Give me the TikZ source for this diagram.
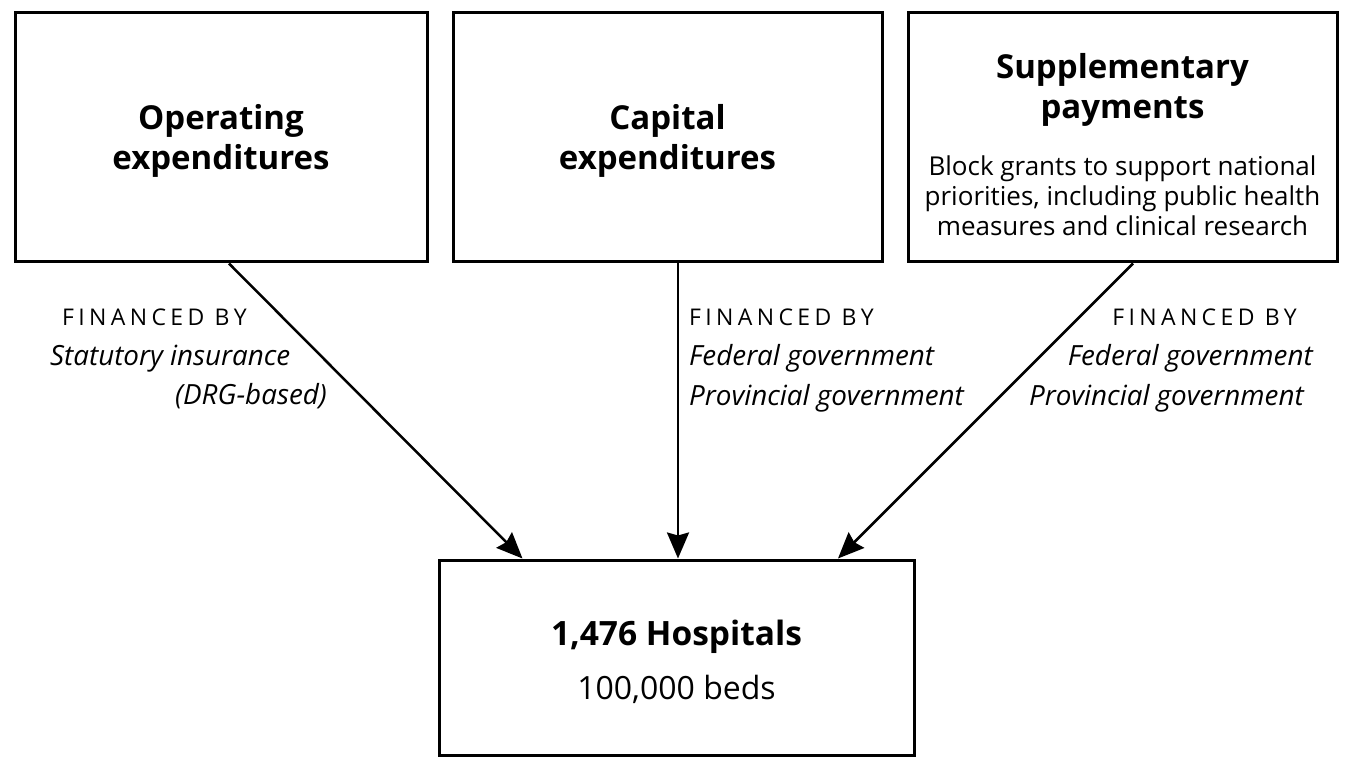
\documentclass[tikz,border=0pt]{standalone}
\usepackage{fontspec}
\setmainfont{Open Sans}
\newfontfamily\lblfont[LetterSpace=19]{Open Sans}
\newfontfamily\itfont{Open Sans}
\usetikzlibrary{arrows.meta}
\begin{document}
\begin{tikzpicture}[x=1pt,y=-1pt,
  box/.style={draw,line width=3pt,rectangle,inner sep=0pt,align=center},
  arr/.style={line width=2.5pt,-{Stealth[length=26pt,width=22pt,inset=3pt]}},
  title/.style={font=\fontsize{33}{40}\selectfont\bfseries},
  fin/.style={font=\lblfont\fontsize{23}{26}\selectfont,inner sep=0pt},
  src/.style={font=\itfont\itshape\fontsize{27.8}{30}\selectfont,inner sep=0pt}]
\useasboundingbox (0,0) rectangle (1350,767);
\node[box,minimum width=412pt,minimum height=249pt] (op) at (221,137.5) {};
\node[title,align=center] (opt) at (221,140.5) {Operating\\expenditures};
\node[box,minimum width=429pt,minimum height=249pt] (cap) at (667.5,137.5) {};
\node[title,align=center] (capt) at (667.5,140.5) {Capital\\expenditures};
\node[box,minimum width=429pt,minimum height=249pt] (sup) at (1122.5,137.5) {};
\node[title,align=center] (supt) at (1122.5,89.5) {Supplementary\\payments};
\node[align=center,font=\fontsize{26}{30}\selectfont] (supd) at (1122.5,196) {Block grants to support national\\priorities, including public health\\measures and clinical research};
\node[box,minimum width=475pt,minimum height=195pt] (hosp) at (676.5,657.5) {};
\node[font=\fontsize{33.5}{40}\selectfont\bfseries] (hospt) at (676.5,637) {1,476 Hospitals};
\node[font=\fontsize{32}{34}\selectfont] (hospb) at (676.5,689) {100,000 beds};

\node[fin,anchor=base west] (f1) at (62,326) {FINANCED BY};
\node[src,anchor=base west] (s1a) at (50,366) {Statutory insurance};
\node[src,anchor=base east] (s1b) at (327,405) {(DRG-based)};
\node[fin,anchor=base west] (f2) at (689,326) {FINANCED BY};
\node[src,anchor=base west] (s2a) at (689,366) {Federal government};
\node[src,anchor=base west] (s2b) at (689,406) {Provincial government};
\node[fin,anchor=base east] (f3) at (1297,326) {FINANCED BY};
\node[src,anchor=base east] (s3a) at (1313,366) {Federal government};
\node[src,anchor=base east] (s3b) at (1304,406) {Provincial government};

\draw[arr] ([xshift=8pt]op.south) -- ([xshift=-154pt]hosp.north);
\draw[arr] ([xshift=10.5pt]cap.south) -- ([xshift=1.5pt]hosp.north);
\draw[arr] ([xshift=10.5pt]sup.south) -- ([xshift=161.5pt]hosp.north);
\end{tikzpicture}
\end{document}
